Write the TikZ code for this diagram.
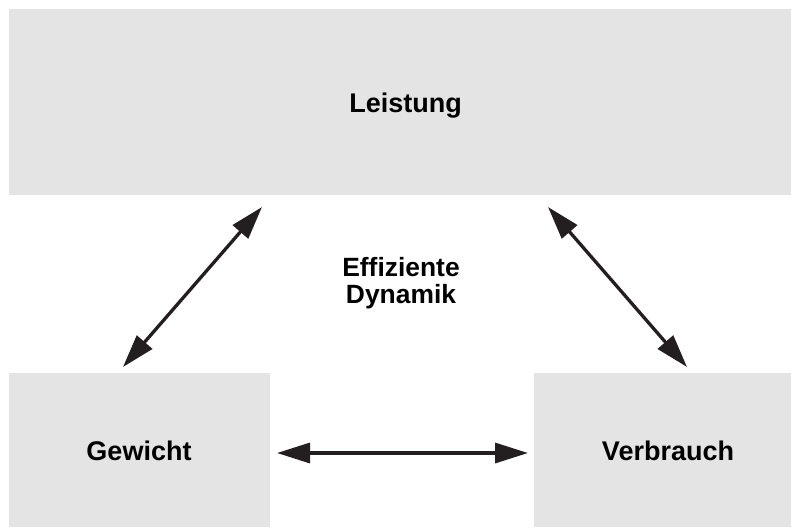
\documentclass[tikz,border=0pt]{standalone}
\usepackage{fontspec}
\setmainfont{Liberation Sans}
\usetikzlibrary{arrows.meta}
\definecolor{boxgray}{HTML}{E4E4E4}
\definecolor{arrowblack}{HTML}{231F20}
\tikzset{
  boxfill/.style={fill=boxgray, draw=none},
  lbl/.style={font=\fontsize{27}{27}\selectfont\bfseries, inner sep=0pt, anchor=base},
  dbl/.style={line width=3.3pt, draw=arrowblack,
    {Triangle[length=33pt,width=20pt]}-{Triangle[length=33pt,width=20pt]}}
}
\begin{document}
\begin{tikzpicture}[x=1pt,y=-1pt]
\useasboundingbox (0,0) rectangle (791,527);
% boxes
\path[boxfill] (9,9) rectangle (791,195) coordinate (topbox);
\path[boxfill] (9,373) rectangle (270,527);
\path[boxfill] (534,373) rectangle (791,527);
% labels
\node[lbl] (leistung) at (405.5,112) {Leistung};
\node[lbl] (gewicht) at (139,460) {Gewicht};
\node[lbl] (verbrauch) at (668,460) {Verbrauch};
\node[lbl, font=\fontsize{26.4}{26.5}\selectfont\bfseries] (eff) at (401,276.7) {Effiziente};
\node[lbl, font=\fontsize{26.4}{26.5}\selectfont\bfseries] (dyn) at (401,303.5) {Dynamik};
% arrow end points
\coordinate (gw) at (123,367);
\coordinate (lsl) at (262,207);
\coordinate (lsr) at (548,207);
\coordinate (vb) at (687,367);
\coordinate (hl) at (277,453);
\coordinate (hr) at (528,453);
% arrows
\draw[dbl] (gw) -- (lsl);
\draw[dbl] (lsr) -- (vb);
\draw[dbl] (hl) -- (hr);
\end{tikzpicture}
\end{document}
